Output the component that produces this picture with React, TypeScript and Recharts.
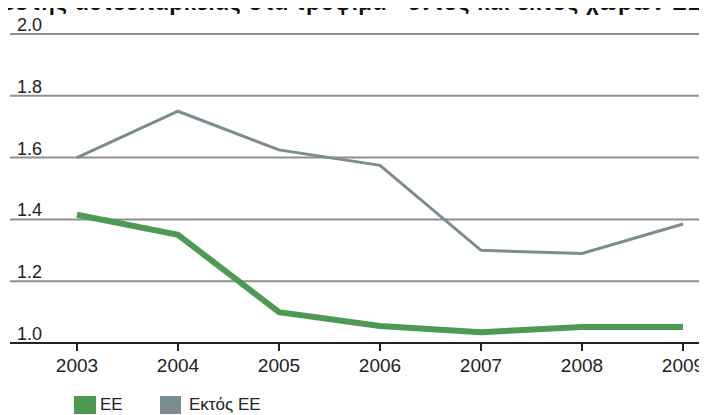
// App.tsx
import React from 'react';
import { LineChart, Line, XAxis, YAxis, CartesianGrid } from 'recharts';

const years: string[] = ['2003', '2004', '2005', '2006', '2007', '2008', '2009'];
const euValues: number[] = [1.415, 1.35, 1.1, 1.055, 1.035, 1.052, 1.052];
const nonEuValues: number[] = [1.6, 1.75, 1.625, 1.575, 1.3, 1.29, 1.385];
const yTicks: number[] = [1.0, 1.2, 1.4, 1.6, 1.8, 2.0];

const title = 'Συντελεστής αυτοεπάρκειας στα τρόφιμα - εντός και εκτός χωρών ΕΕ';
const euLabel = 'ΕΕ';
const nonEuLabel = 'Εκτός ΕΕ';

const GREEN = '#4e9a52';
const GREY = '#7b8c92';

const data = years.map((year, i) => ({
  year,
  eu: euValues[i],
  nonEu: nonEuValues[i],
}));

// y labels sit above their gridline, at the left edge
const YTick = (props: any) => {
  const { x, y, payload } = props;
  return (
    <text x={x} y={y - 3} fontSize={18} fill="#222" textAnchor="start">
      {Number(payload.value).toFixed(1)}
    </text>
  );
};

const font = '"Liberation Sans", Arial, Helvetica, sans-serif';

const App: React.FC = () => {
  return (
    <div
      style={{
        position: 'relative',
        width: 707,
        height: 415,
        margin: '-8px 0 0 -8px',
        overflow: 'hidden',
        fontFamily: font,
        background: '#fff',
      }}
    >
      <div
        style={{
          position: 'absolute',
          top: -8,
          left: -72,
          whiteSpace: 'nowrap',
          fontWeight: 'bold',
          fontSize: 22,
          lineHeight: '22px',
          letterSpacing: 0.8,
          color: '#111',
        }}
      >
        {title}
      </div>

      <LineChart
        width={707}
        height={415}
        data={data}
        margin={{ top: 34, right: 0, left: 10, bottom: 0 }}
        style={{ fontFamily: font }}
      >
        <CartesianGrid vertical={false} stroke="#8f8f8f" strokeWidth={2} />
        <XAxis
          dataKey="year"
          height={72}
          padding={{ left: 67, right: 24 }}
          axisLine={{ stroke: '#222', strokeWidth: 2 }}
          tickLine={{ stroke: '#222', strokeWidth: 2 }}
          tickSize={8}
          tickMargin={8}
          tick={{ fontSize: 19, fill: '#222' }}
          interval={0}
        />
        <YAxis
          domain={[1, 2]}
          ticks={yTicks}
          width={1}
          mirror
          axisLine={false}
          tickLine={false}
          tickSize={0}
          tickMargin={7}
          tick={YTick}
          interval={0}
        />
        <Line
          dataKey="nonEu"
          stroke={GREY}
          strokeWidth={3}
          dot={false}
          type="linear"
          isAnimationActive={false}
        />
        <Line
          dataKey="eu"
          stroke={GREEN}
          strokeWidth={6}
          dot={false}
          type="linear"
          isAnimationActive={false}
        />
      </LineChart>

      {/* legend */}
      <div style={{ position: 'absolute', left: 74, top: 396, display: 'flex', alignItems: 'center', fontSize: 17, color: '#222', lineHeight: '18px' }}>
        <span style={{ width: 22, height: 18, background: GREEN, display: 'inline-block' }} />
        <span style={{ marginLeft: 4, width: 60 }}>{euLabel}</span>
        <span style={{ width: 21, height: 18, background: GREY, display: 'inline-block' }} />
        <span style={{ marginLeft: 8 }}>{nonEuLabel}</span>
      </div>
    </div>
  );
};

export default App;
